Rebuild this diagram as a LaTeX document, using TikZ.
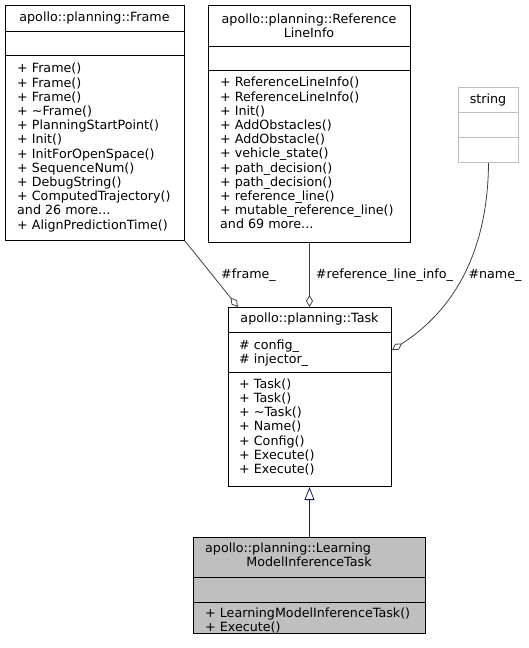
\documentclass[tikz,border=0pt]{standalone}
\usepackage{fontspec}
\setmainfont{DejaVu Sans}
\usetikzlibrary{arrows.meta}

\definecolor{edgegray}{HTML}{404040}
\definecolor{boxgray}{HTML}{BFBFBF}
\definecolor{inhblue}{HTML}{191970}

\tikzset{
  classbox/.style={draw=black, line width=1pt, inner sep=0pt, anchor=north west},
  members/.style={anchor=north west, align=left, inner sep=0pt},
  title/.style={inner sep=0pt, align=center},
  aggr/.style={draw=edgegray, line width=0.8pt, -{Diamond[open, length=12pt, width=7pt]}},
  inherit/.style={draw=inhblue, line width=0.8pt, -{Triangle[open, length=13pt, width=10pt]}},
}

\begin{document}
\begin{tikzpicture}[x=1pt, y=-1pt, font=\fontsize{12.7}{14.2}\selectfont]
\useasboundingbox (0,0) rectangle (529,648);

\node[classbox, minimum width=179pt, minimum height=235pt] (frame) at (5,5) {};
\draw (5,31) -- (184,31);
\draw (5,55.5) -- (184,55.5);
\node[title] (frametitle) at (94.5,18) {apollo::planning::Frame};
\node[members] (framefn) at (17,63) {+ Frame()\\+ Frame()\\+ Frame()\\+ \textasciitilde Frame()\\+ PlanningStartPoint()\\+ Init()\\+ InitForOpenSpace()\\+ SequenceNum()\\+ DebugString()\\+ ComputedTrajectory()\\and 26 more...\\+ AlignPredictionTime()};

\node[classbox, minimum width=202pt, minimum height=237pt] (ref) at (208,5) {};
\draw (208,46) -- (410,46);
\draw (208,70.5) -- (410,70.5);
\node[title] (reftitle) at (309,25.5) {apollo::planning::Reference\\LineInfo};
\node[members] (reffn) at (220,77) {+ ReferenceLineInfo()\\+ ReferenceLineInfo()\\+ Init()\\+ AddObstacles()\\+ AddObstacle()\\+ vehicle\_state()\\+ path\_decision()\\+ path\_decision()\\+ reference\_line()\\+ mutable\_reference\_line()\\and 69 more...};

\node[classbox, draw=boxgray, minimum width=60pt, minimum height=75pt] (str) at (458,87) {};
\draw[boxgray] (458,112) -- (518,112);
\draw[boxgray] (458,137) -- (518,137);
\node[title] (strtitle) at (488,99.5) {string};

\node[classbox, minimum width=163pt, minimum height=179pt] (task) at (228,307) {};
\draw (228,332) -- (391,332);
\draw (228,372) -- (391,372);
\node[title] (tasktitle) at (309.5,319) {apollo::planning::Task};
\node[members] (taskattr) at (239,339.5) {\# config\_\\\# injector\_};
\node[members] (taskfn) at (239,378.5) {+ Task()\\+ Task()\\+ \textasciitilde Task()\\+ Name()\\+ Config()\\+ Execute()\\+ Execute()};

\node[classbox, fill=boxgray, minimum width=232pt, minimum height=96pt] (learn) at (193,537) {};
\draw (193,577) -- (425,577);
\draw (193,602) -- (425,602);
\node[title, anchor=west] (learntitle) at (205,549) {apollo::planning::Learning};
\node[title] (learntitleb) at (309,562) {ModelInferenceTask};
\node[members] (learnfn) at (205,607.5) {+ LearningModelInferenceTask()\\+ Execute()};

\draw[aggr] (frame.south east) -- ([xshift=10pt]task.north west);
\draw[aggr] (ref.south) -- (ref.south |- task.north);
\draw[aggr] (str.south) .. controls (488,240) and (462,305) .. ([yshift=-43pt]task.north east);
\draw[inherit] (learn.north) -- (learn.north |- task.south);

\node[title] (framelbl) at (248.5,275) {\#frame\_};
\node[title] (reflbl) at (384.5,275) {\#reference\_line\_info\_};
\node[title] (namelbl) at (495,275) {\#name\_};
\end{tikzpicture}
\end{document}
